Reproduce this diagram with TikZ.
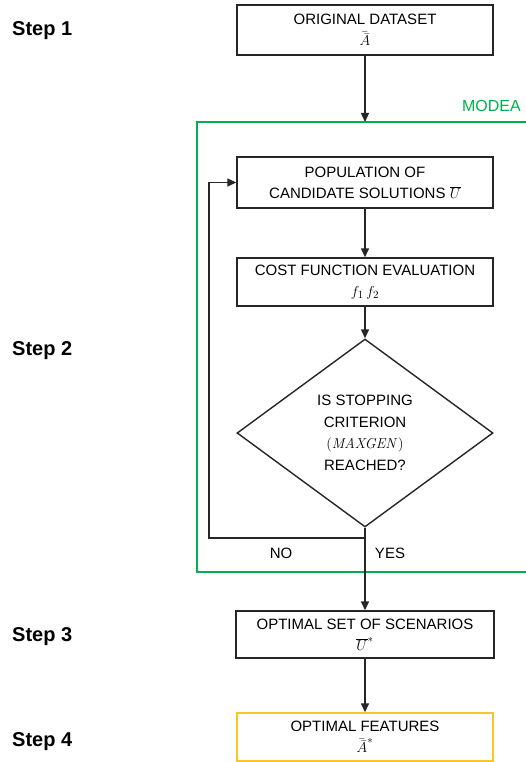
\documentclass[tikz,border=0pt]{standalone}
\usepackage[no-math]{fontspec}
\setmainfont{Liberation Sans}
\usetikzlibrary{shapes.geometric,arrows.meta}
\definecolor{modeagreen}{RGB}{0,176,80}
\definecolor{featyellow}{RGB}{245,200,40}
\tikzset{
  procbox/.style={draw=black!85, line width=1.4pt, minimum width=256pt, inner sep=0pt,
    align=center, font=\fontsize{15}{21}\selectfont},
  decbox/.style={draw=black!85, line width=1.4pt, shape=diamond, minimum width=256pt,
    minimum height=188pt, inner sep=0pt, align=center, font=\fontsize{15}{21.5}\selectfont},
  arr/.style={line width=1.4pt, draw=black!85, -{Triangle[length=9pt,width=8pt]}},
  steplabel/.style={anchor=west, inner sep=0pt, font=\bfseries\fontsize{20}{23}\selectfont},
  lbl/.style={inner sep=0pt, font=\fontsize{15}{17}\selectfont}
}
\begin{document}
\begin{tikzpicture}[x=1pt,y=-1pt]
\clip (0,0) rectangle (526,762);
\fill[white] (0,0) rectangle (526,762);

% green MODEA frame
\draw[modeagreen, line width=2.6pt] (197,122) rectangle (532,572);
\node[lbl, text=modeagreen, anchor=east, font=\fontsize{16}{18}\selectfont] (modea) at (521,106) {MODEA};

% step labels
\node[steplabel] (s1) at (12,31) {Step 1};
\node[steplabel] (s2) at (12,351) {Step 2};
\node[steplabel] (s3) at (12,637) {Step 3};
\node[steplabel] (s4) at (12,742) {Step 4};

% boxes
\node[procbox, minimum height=50pt] (orig) at (365,30) {ORIGINAL DATASET\\$\bar{\bar{A}}$};
\node[procbox, minimum height=51pt] (pop) at (365,182.5) {POPULATION OF\\CANDIDATE SOLUTIONS $\overline{U}$};
\node[procbox, minimum height=48pt] (cost) at (365,282) {COST FUNCTION EVALUATION\\$f_1\,f_2$};
\node[decbox] (dia) at (365,433) {IS STOPPING\\CRITERION\\$(\mathit{MAXGEN})$\\REACHED?};
\node[procbox, minimum height=47pt, minimum width=258pt] (opt) at (365,634.5) {OPTIMAL SET OF SCENARIOS\\$\overline{U}^{*}$};
\node[procbox, draw=featyellow, minimum height=48pt] (feat) at (365,737) {OPTIMAL FEATURES\\$\bar{\bar{A}}^{*}$};

% connectors
\coordinate (top) at (365,122);
\coordinate (loopc) at (209,538);
\draw[arr] (orig.south) -- (top);
\draw[arr] (pop.south) -- (cost.north);
\draw[arr] (cost.south) -- (dia.north);
\draw[arr] (dia.south) -- (opt.north);
\draw[arr] (dia.south) -- (dia.south |- loopc) -- (loopc) |- (pop.west);
\draw[arr] (opt.south) -- (feat.north);

% branch labels
\node[lbl] (no) at (281,553) {NO};
\node[lbl] (yes) at (390,553) {YES};
\end{tikzpicture}
\end{document}
